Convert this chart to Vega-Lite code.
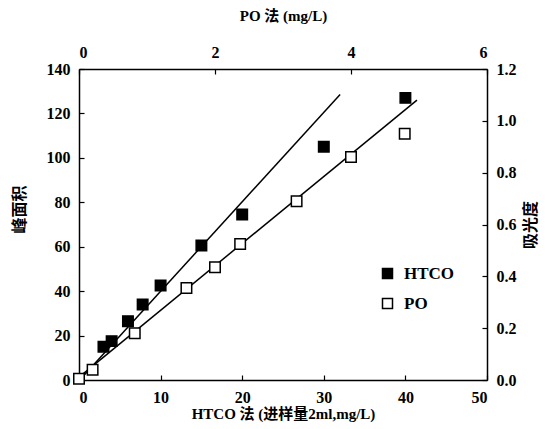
{
  "$schema": "https://vega.github.io/schema/vega-lite/v6.json",
  "width": 408,
  "height": 311,
  "autosize": "none",
  "padding": {"left": 79, "top": 69, "right": 58, "bottom": 49},
  "background": "white",
  "config": {
    "view": {"stroke": null},
    "axis": {
      "labelFont": "Liberation Serif, Times New Roman, serif",
      "labelFontWeight": "bold",
      "labelFontSize": 16,
      "labelColor": "black",
      "titleFont": "Liberation Serif, Noto Sans CJK SC, serif",
      "titleFontWeight": "bold",
      "titleFontSize": 15,
      "titleColor": "black",
      "domainColor": "black",
      "domainWidth": 1.5,
      "tickColor": "black",
      "tickWidth": 1.2,
      "tickSize": -5,
      "labelPadding": 14,
      "grid": false
    }
  },
  "datasets": {
    "pts": [
      {"series": "HTCO", "x": 3, "y": 15},
      {"series": "HTCO", "x": 4, "y": 17.5},
      {"series": "HTCO", "x": 6, "y": 26.5},
      {"series": "HTCO", "x": 7.8, "y": 34},
      {"series": "HTCO", "x": 10, "y": 42.5},
      {"series": "HTCO", "x": 15, "y": 60.5},
      {"series": "HTCO", "x": 20, "y": 74.5},
      {"series": "HTCO", "x": 30, "y": 105},
      {"series": "HTCO", "x": 40, "y": 127}
    ],
    "po": [
      {"series": "PO", "x": 0, "y": 0.005},
      {"series": "PO", "x": 0.2, "y": 0.04},
      {"series": "PO", "x": 0.82, "y": 0.18},
      {"series": "PO", "x": 1.58, "y": 0.355},
      {"series": "PO", "x": 2.0, "y": 0.435},
      {"series": "PO", "x": 2.37, "y": 0.525},
      {"series": "PO", "x": 3.2, "y": 0.69},
      {"series": "PO", "x": 4.0, "y": 0.86},
      {"series": "PO", "x": 4.79, "y": 0.95}
    ],
    "lineH": [
      {"x": 0.2, "y": 0.5},
      {"x": 32, "y": 128.5}
    ],
    "lineP": [
      {"x": 0.02, "y": 0.015},
      {"x": 4.97, "y": 1.08}
    ]
  },
  "layer": [
    {
      "layer": [
        {
          "data": {"name": "lineH"},
          "mark": {"type": "line", "color": "black", "strokeWidth": 1.5},
          "encoding": {
            "x": {"field": "x", "type": "quantitative"},
            "y": {"field": "y", "type": "quantitative"}
          }
        },
        {
          "data": {"name": "pts"},
          "mark": {"type": "point", "shape": "square", "size": 110, "filled": true, "stroke": "black", "strokeWidth": 1.5, "opacity": 1},
          "encoding": {
            "x": {"field": "x", "type": "quantitative"},
            "y": {"field": "y", "type": "quantitative"},
            "fill": {"field": "series", "type": "nominal",
              "scale": {"domain": ["HTCO", "PO"], "range": ["black", "white"]},
              "legend": {
                "title": null, "orient": "none", "legendX": 300, "legendY": 196,
                "symbolType": "square", "symbolSize": 100, "symbolStrokeColor": "black", "symbolStrokeWidth": 1.5,
                "labelFont": "Liberation Serif, Times New Roman, serif", "labelFontWeight": "bold", "labelFontSize": 17, "labelColor": "black",
                "rowPadding": 12, "labelOffset": 8
              }
            }
          }
        }
      ],
      "encoding": {
        "x": {"field": "x", "type": "quantitative",
          "scale": {"domain": [0, 50], "nice": false, "zero": false},
          "axis": {"orient": "bottom", "values": [0, 10, 20, 30, 40, 50], "title": "HTCO 法 (进样量2ml,mg/L)", "titlePadding": 1}},
        "y": {"field": "y", "type": "quantitative",
          "scale": {"domain": [0, 140], "nice": false, "zero": false},
          "axis": {"orient": "left", "values": [0, 20, 40, 60, 80, 100, 120, 140], "title": "峰面积", "titleFontSize": 16, "titlePadding": 19, "titleY": 140}}
      }
    },
    {
      "layer": [
        {
          "data": {"name": "lineP"},
          "mark": {"type": "line", "color": "black", "strokeWidth": 1.5},
          "encoding": {
            "x": {"field": "x", "type": "quantitative"},
            "y": {"field": "y", "type": "quantitative"}
          }
        },
        {
          "data": {"name": "po"},
          "mark": {"type": "point", "shape": "square", "size": 110, "filled": true, "stroke": "black", "strokeWidth": 1.5, "opacity": 1},
          "encoding": {
            "x": {"field": "x", "type": "quantitative"},
            "y": {"field": "y", "type": "quantitative"},
            "fill": {"field": "series", "type": "nominal"}
          }
        }
      ],
      "encoding": {
        "x": {"field": "x", "type": "quantitative",
          "scale": {"domain": [0, 6], "nice": false, "zero": false},
          "axis": {"orient": "top", "values": [0, 2, 4, 6], "title": "PO 法 (mg/L)", "titlePadding": 21}},
        "y": {"field": "y", "type": "quantitative",
          "scale": {"domain": [0, 1.2], "nice": false, "zero": false},
          "axis": {"orient": "right", "values": [0, 0.2, 0.4, 0.6, 0.8, 1.0, 1.2], "format": ".1f", "title": "吸光度", "titleFontSize": 16, "titleAngle": 270, "titlePadding": 22}}
      }
    }
  ],
  "resolve": {"scale": {"x": "independent", "y": "independent"}}
}
